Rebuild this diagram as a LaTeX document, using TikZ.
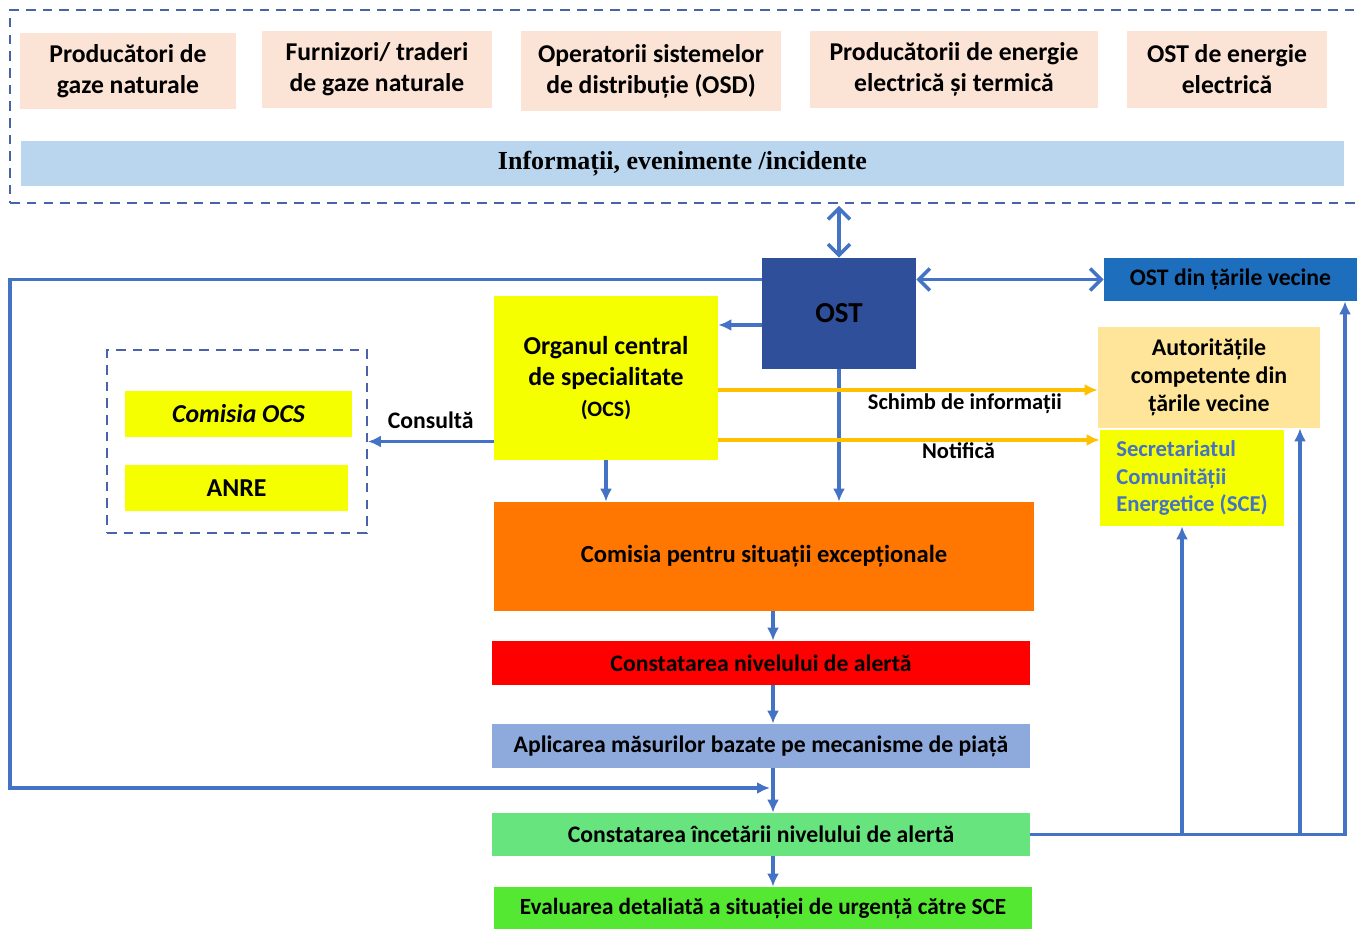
\documentclass[tikz,border=0pt]{standalone}
\usepackage{fontspec}
\setmainfont{Carlito}
\newfontfamily\timesfont{Liberation Serif}
\usetikzlibrary{arrows.meta}
\definecolor{peach}{HTML}{FBE3D5}
\definecolor{infoblue}{HTML}{B9D6EE}
\definecolor{ostblue}{HTML}{2F4F9B}
\definecolor{nbblue}{HTML}{1E6EBE}
\definecolor{lemon}{HTML}{F6FF00}
\definecolor{sand}{HTML}{FFE599}
\definecolor{deeporange}{HTML}{FF7700}
\definecolor{alertred}{HTML}{FF0000}
\definecolor{lavender}{HTML}{8EA9DB}
\definecolor{mint}{HTML}{67E47D}
\definecolor{grass}{HTML}{55E832}
\definecolor{linkblue}{HTML}{4472C4}
\definecolor{amber}{HTML}{FFC000}
\definecolor{framegray}{HTML}{4A62A8}

\begin{document}
\begin{tikzpicture}[x=0.02cm, y=-0.02cm,
  font=\bfseries\fontsize{14}{17}\selectfont,
  box/.style={fill=#1, inner sep=0pt, align=center},
  src/.style={box=peach, minimum height=1.54cm, font=\bfseries\fontsize{14.6}{17.6}\selectfont},
  flow/.style={box=#1, minimum width=10.76cm, minimum height=0.88cm, font=\bfseries\fontsize{13.5}{16}\selectfont},
  tag/.style={font=\bfseries\fontsize{12.8}{15}\selectfont},
  link/.style={draw=linkblue, line width=2pt, -{Latex[length=2.6mm,width=2.4mm]}},
  both/.style={draw=linkblue, line width=2pt, {Straight Barb[length=2.2mm,width=4.4mm]}-{Straight Barb[length=2.2mm,width=4.4mm]}},
  warn/.style={draw=amber, line width=2pt, -{Latex[length=2.6mm,width=2.4mm]}},
  frame/.style={draw=framegray, line width=1pt, dash pattern=on 5.5pt off 4pt, inner sep=0pt}]
\useasboundingbox (0,0) rectangle (1357,929);

% top group
\node[frame, minimum width=27.04cm, minimum height=3.86cm] (zone) at (686,106.5) {};
\node[src, minimum width=4.32cm, minimum height=1.52cm] (gasprod) at (128,71) {Producători de\\gaze naturale};
\node[src, minimum width=4.6cm] (trader) at (377,69.5) {Furnizori/ traderi\\de gaze naturale};
\node[src, minimum width=5.2cm, minimum height=1.6cm] (osd) at (651,71) {Operatorii sistemelor\\de distribuție (OSD)};
\node[src, minimum width=5.76cm] (elprod) at (954,69.5) {Producătorii de energie\\electrică și termică};
\node[src, minimum width=4cm] (elost) at (1227,69.5) {OST de energie\\electrică};
\node[box=infoblue, minimum width=26.46cm, minimum height=0.9cm, font=\timesfont\bfseries\fontsize{14.8}{17}\selectfont] (info) at (682.5,163.5) {Informații, evenimente /incidente};

% operators and authorities
\node[box=ostblue, minimum width=3.08cm, minimum height=2.22cm, font=\bfseries\fontsize{16.5}{19}\selectfont] (ost) at (839,313.5) {OST};
\node[box=nbblue, minimum width=5.06cm, minimum height=0.86cm, font=\bfseries\fontsize{13.5}{16}\selectfont] (ostnb) at (1230.5,279.5) {OST din țările vecine};
\node[box=lemon, minimum width=4.48cm, minimum height=3.28cm, font=\bfseries\fontsize{14.7}{17.6}\selectfont] (ocs) at (606,378) {Organul central\\de specialitate\\{\fontsize{12.5}{14}\selectfont(OCS)}};
\node[box=sand, minimum width=4.44cm, minimum height=2.02cm, font=\bfseries\fontsize{13.6}{15.9}\selectfont] (auth) at (1209,377.5) {Autoritățile\\competente din\\țările vecine};
\node[box=lemon, minimum width=3.68cm, minimum height=1.92cm, text=linkblue, align=left, font=\bfseries\fontsize{12.9}{15.9}\selectfont] (sce) at (1192,478) {Secretariatul\\Comunității\\Energetice (SCE)};

% consulted bodies
\node[frame, minimum width=5.2cm, minimum height=3.66cm] (grp) at (237,441.5) {};
\node[box=lemon, minimum width=4.54cm, minimum height=0.92cm, font=\bfseries\itshape\fontsize{14.7}{17}\selectfont] (cocs) at (238.5,414) {Comisia OCS};
\node[box=lemon, minimum width=4.46cm, minimum height=0.92cm, font=\bfseries\fontsize{14.7}{17}\selectfont] (anre) at (236.5,488) {ANRE};

% alert flow
\node[box=deeporange, minimum width=10.8cm, minimum height=2.18cm] (cse) at (764,556.5) {Comisia pentru situații excepționale};
\node[flow=alertred] (alert) at (761,663) {Constatarea nivelului de alertă};
\node[flow=lavender] (market) at (761,746) {Aplicarea măsurilor bazate pe mecanisme de piață};
\node[flow=mint, minimum height=0.86cm] (cease) at (761,834.5) {Constatarea încetării nivelului de alertă};
\node[flow=grass, minimum height=0.84cm, font=\bfseries\fontsize{13.2}{16}\selectfont] (assess) at (763,908) {Evaluarea detaliată a situației de urgență către SCE};

% connectors
\coordinate (ax) at (773,0);
\coordinate (ret) at (10,788);
\coordinate (o1) at ([yshift=-0.23cm]ost.west);
\coordinate (x1) at ([yshift=-0.24cm]ocs.east);
\coordinate (x2) at ([yshift=-1.24cm]ocs.east);
\coordinate (b1) at (1182,0);
\coordinate (b2) at (1300,0);
\coordinate (b3) at (1345,0);

\draw[both] (ost.north) -- ([yshift=-0.04cm]ost.north |- zone.south);
\draw[both] (ost.east |- ostnb.west) -- (ostnb.west);
\draw[link, shorten >=0.06cm] (ost.west |- ostnb.west) -| (ret) -- (ret -| ax);
\draw[link] (o1) -- (o1 -| ocs.east);
\draw[link] (ost.south) -- (ost.south |- cse.north);
\draw[link] (ocs.south) -- (ocs.south |- cse.north);
\draw[warn] (x1) -- (x1 -| auth.west) node[tag, pos=0.65, yshift=-0.27cm] {Schimb de informații};
\draw[warn] (x2) -- (x2 -| sce.west) node[tag, pos=0.63, yshift=-0.22cm] {Notifică};
\draw[link] (ocs.west |- grp.east) -- (grp.east) node[tag, midway, yshift=0.42cm, font=\bfseries\fontsize{13.5}{15}\selectfont] {Consultă};

\draw[link] (cse.south -| ax) -- (alert.north -| ax);
\draw[link] (alert.south -| ax) -- (market.north -| ax);
\draw[link] (market.south -| ax) -- (cease.north -| ax);
\draw[link] (cease.south -| ax) -- (assess.north -| ax);

\draw[link] (cease.east) -- (cease.east -| b3) -- (b3 |- ostnb.south);
\draw[link] (cease.east -| b1) -- (b1 |- sce.south);
\draw[link] (cease.east -| b2) -- (b2 |- auth.south);
\end{tikzpicture}
\end{document}
